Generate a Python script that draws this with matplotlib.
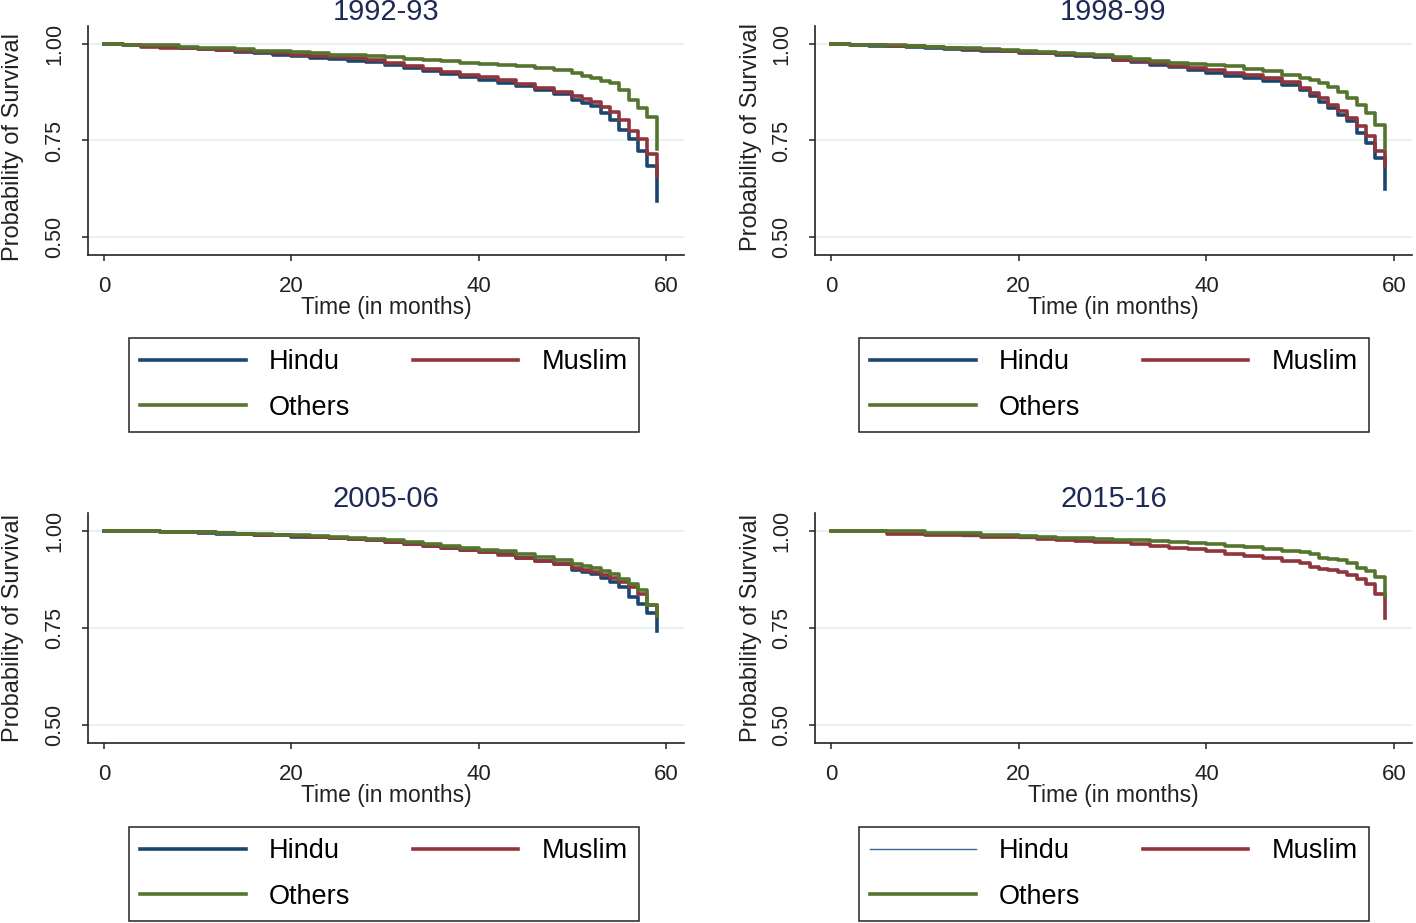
import matplotlib.pyplot as plt
from matplotlib.ticker import FormatStrFormatter

plt.rcParams['font.family'] = ['Liberation Sans', 'DejaVu Sans']

# survey rounds, one panel each
surveys = ["1992-93", "1998-99", "2005-06", "2015-16"]
groups = ["Hindu", "Muslim", "Others"]

months = [0, 2, 4, 6, 8, 10, 12, 14, 16, 18, 20, 22, 24, 26, 28, 30, 32, 34, 36,
          38, 40, 42, 44, 46, 48, 50, 51, 52, 53, 54, 55, 56, 57, 58, 59]

# 1992-93
hindu_9293 = [1.0, 0.997, 0.994, 0.992, 0.99, 0.987, 0.984, 0.98, 0.976, 0.973, 0.969, 0.965,
              0.961, 0.957, 0.953, 0.945, 0.938, 0.931, 0.922, 0.915, 0.907, 0.900, 0.891,
              0.880, 0.870, 0.854, 0.847, 0.840, 0.821, 0.804, 0.778, 0.753, 0.723, 0.684, 0.594]
muslim_9293 = [1.0, 0.997, 0.992, 0.991, 0.99, 0.988, 0.986, 0.982, 0.979, 0.976, 0.973, 0.969,
               0.966, 0.963, 0.960, 0.951, 0.943, 0.935, 0.927, 0.921, 0.915, 0.906, 0.897,
               0.886, 0.877, 0.866, 0.858, 0.851, 0.838, 0.824, 0.802, 0.774, 0.753, 0.714, 0.658]
others_9293 = [1.0, 0.999, 0.998, 0.997, 0.993, 0.991, 0.989, 0.987, 0.983, 0.981, 0.979, 0.977,
               0.973, 0.971, 0.968, 0.966, 0.962, 0.959, 0.956, 0.952, 0.949, 0.946, 0.943,
               0.937, 0.933, 0.924, 0.918, 0.912, 0.905, 0.899, 0.881, 0.856, 0.834, 0.811, 0.727]

# 1998-99
hindu_9899 = [1.0, 0.997, 0.996, 0.995, 0.993, 0.99, 0.988, 0.986, 0.983, 0.981, 0.978, 0.976,
              0.973, 0.97, 0.966, 0.958, 0.953, 0.946, 0.940, 0.933, 0.924, 0.918, 0.911,
              0.905, 0.894, 0.880, 0.866, 0.851, 0.834, 0.817, 0.800, 0.770, 0.744, 0.705, 0.624]
muslim_9899 = [1.0, 0.998, 0.997, 0.996, 0.994, 0.992, 0.99, 0.987, 0.985, 0.982, 0.980, 0.977,
               0.975, 0.972, 0.968, 0.960, 0.955, 0.950, 0.944, 0.938, 0.934, 0.926, 0.919,
               0.911, 0.903, 0.886, 0.873, 0.860, 0.843, 0.826, 0.808, 0.787, 0.761, 0.723, 0.684]
others_9899 = [1.0, 0.999, 0.998, 0.997, 0.995, 0.993, 0.991, 0.989, 0.987, 0.985, 0.982, 0.98,
               0.977, 0.974, 0.971, 0.967, 0.962, 0.957, 0.951, 0.948, 0.946, 0.942, 0.936,
               0.929, 0.920, 0.912, 0.906, 0.899, 0.888, 0.877, 0.860, 0.843, 0.821, 0.791, 0.727]

# 2005-06
hindu_0506 = [1.0, 1.0, 1.0, 0.997, 0.997, 0.996, 0.994, 0.993, 0.99, 0.989, 0.986, 0.984,
              0.982, 0.979, 0.976, 0.971, 0.966, 0.961, 0.956, 0.951, 0.946, 0.940, 0.932,
              0.924, 0.914, 0.901, 0.895, 0.89, 0.88, 0.87, 0.855, 0.829, 0.811, 0.789, 0.741]
muslim_0506 = [1.0, 1.0, 1.0, 0.998, 0.998, 0.997, 0.995, 0.993, 0.991, 0.99, 0.988, 0.985,
               0.983, 0.98, 0.977, 0.973, 0.968, 0.962, 0.956, 0.951, 0.947, 0.938, 0.931,
               0.923, 0.914, 0.905, 0.900, 0.895, 0.887, 0.878, 0.870, 0.855, 0.838, 0.809, 0.78]
others_0506 = [1.0, 1.0, 1.0, 0.999, 0.998, 0.997, 0.996, 0.994, 0.992, 0.991, 0.989, 0.987,
               0.985, 0.982, 0.979, 0.977, 0.972, 0.968, 0.962, 0.956, 0.952, 0.948, 0.941,
               0.934, 0.925, 0.914, 0.909, 0.904, 0.897, 0.89, 0.877, 0.864, 0.847, 0.809, 0.78]

# 2015-16 (Hindu curve sits almost exactly under the Muslim one)
hindu_1516 = [1.0, 1.0, 1.0, 0.992, 0.992, 0.99, 0.99, 0.988, 0.986, 0.985, 0.983, 0.981,
              0.977, 0.975, 0.973, 0.971, 0.968, 0.962, 0.957, 0.953, 0.949, 0.941, 0.935,
              0.93, 0.924, 0.917, 0.908, 0.902, 0.899, 0.895, 0.886, 0.877, 0.864, 0.838, 0.776]
muslim_1516 = [1.0, 1.0, 1.0, 0.992, 0.992, 0.991, 0.99, 0.989, 0.986, 0.985, 0.984, 0.981,
               0.977, 0.975, 0.973, 0.971, 0.968, 0.962, 0.957, 0.953, 0.949, 0.941, 0.935,
               0.93, 0.924, 0.917, 0.908, 0.902, 0.899, 0.895, 0.886, 0.877, 0.864, 0.838, 0.776]
others_1516 = [1.0, 1.0, 1.0, 1.0, 1.0, 0.995, 0.995, 0.995, 0.99, 0.99, 0.988, 0.986,
               0.983, 0.982, 0.98, 0.977, 0.976, 0.975, 0.973, 0.97, 0.967, 0.963, 0.958,
               0.954, 0.949, 0.945, 0.94, 0.932, 0.928, 0.925, 0.917, 0.905, 0.897, 0.882, 0.833]

curves = [
    [hindu_9293, muslim_9293, others_9293],
    [hindu_9899, muslim_9899, others_9899],
    [hindu_0506, muslim_0506, others_0506],
    [hindu_1516, muslim_1516, others_1516],
]

colors = ["#1a476f", "#90353b", "#55752f"]  # stata navy / maroon / forest green
title_color = "#1c2a55"
grid_color = "#e6eff1"
ink = "#222222"

W, H = 1416, 923
fig = plt.figure(figsize=(W / 100, H / 100), dpi=100)

# axes boxes in pixels: left, top, right, bottom
boxes = [(88, 26, 684, 255), (815, 26, 1412, 255),
         (88, 513, 684, 743), (815, 513, 1412, 743)]
legend_centers = [(384, 385), (1114, 385), (384, 874), (1114, 874)]
ylabel_pos = [(-0.107, 0.47), (-0.089, 0.515), (-0.107, 0.50), (-0.089, 0.50)]

for i, (l, t, r, b) in enumerate(boxes):
    ax = fig.add_axes([l / W, 1 - b / H, (r - l) / W, (b - t) / H])
    lines = []
    for gi, (name, vals) in enumerate(zip(groups, curves[i])):
        lw, col = 2.6, colors[gi]
        if i == 3 and name == "Hindu":
            # drawn thin in the last round, mostly hidden under Muslim
            lw, col = 1.0, "#3d6591"
        ln, = ax.plot(months, vals, drawstyle="steps-post", color=col, lw=lw, label=name)
        lines.append(ln)

    ax.set_xlim(-1.7, 61.9)
    ax.set_ylim(0.453, 1.047)
    ax.set_xticks([0, 20, 40, 60])
    ax.set_yticks([0.5, 0.75, 1.0])
    ax.yaxis.set_major_formatter(FormatStrFormatter("%.2f"))
    for yv in [0.5, 0.75, 1.0]:
        ax.axhline(yv, color=grid_color, lw=1.3, zorder=0)

    for s in ["top", "right"]:
        ax.spines[s].set_visible(False)
    for s in ["left", "bottom"]:
        ax.spines[s].set_linewidth(1.2)
        ax.spines[s].set_color(ink)

    ax.tick_params(axis="x", length=4.3, width=1.1, pad=11, labelsize=16, colors=ink)
    ax.tick_params(axis="y", length=4.3, width=1.1, pad=12, labelsize=15.5, colors=ink)
    for lab in ax.get_yticklabels():
        lab.set_rotation(90)
        lab.set_va("center")

    ax.set_title(surveys[i], fontsize=21, color=title_color, pad=1)
    ax.set_xlabel("Time (in months)", fontsize=16.5, color=ink, labelpad=-1)
    ax.set_ylabel("Probability of Survival", fontsize=17, color=ink)
    ax.yaxis.set_label_coords(*ylabel_pos[i])

    # matplotlib fills legend columns first, so reorder to read row-wise like the original
    order = [0, 2, 1]
    cx, cy = legend_centers[i]
    leg = fig.legend([lines[k] for k in order], [groups[k] for k in order], loc="center",
                     bbox_to_anchor=(cx / W, 1 - cy / H), ncol=2, fontsize=19.5,
                     handlelength=3.9, handletextpad=0.85, columnspacing=2.3,
                     labelspacing=0.72, borderpad=0.42, fancybox=False,
                     framealpha=1, edgecolor=ink)
    leg.get_frame().set_linewidth(1.1)

fig.savefig("out.png", dpi=100)
